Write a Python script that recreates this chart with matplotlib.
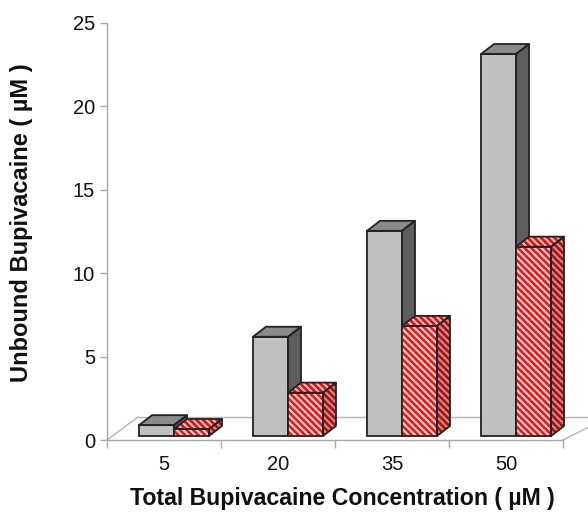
import matplotlib
matplotlib.use('Agg')
import matplotlib.pyplot as plt
from matplotlib.patches import Polygon

# ---- data ----
categories = ['5', '20', '35', '50']
gray_values = [0.65, 5.95, 12.3, 22.9]
red_values = [0.42, 2.6, 6.6, 11.35]
y_ticks = [0, 5, 10, 15, 20, 25]
x_label = 'Total Bupivacaine Concentration ( µM )'
y_label = 'Unbound Bupivacaine ( µM )'

plt.rcParams['font.family'] = ['Liberation Sans', 'DejaVu Sans']
plt.rcParams['hatch.linewidth'] = 1.5

W, H = 588, 527
fig = plt.figure(figsize=(W / 100, H / 100), dpi=100)
ax = fig.add_axes([107 / W, (H - 440) / H, (563 - 107) / W, (440 - 23) / H])
n = len(categories)
ax.set_xlim(-0.5, n - 0.5)
ax.set_ylim(0, 25)

# pixel -> data conversions (styling of the pseudo-3D look)
PX = n / (563 - 107)
PY = 25 / (440 - 23)
floor_dx, floor_dy = 31 * PX, 23 * PY
right_dx = 46 * PX
bar_shift = 10 * PX
bar_base = 4 * PY
bar_w = 35 * PX
ddx, ddy = 13 * PX, 10 * PY

floor_col = '#b4b4b4'
xl, xr = -0.5, n - 0.5
ax.plot([xl, xl + floor_dx], [0, floor_dy], color=floor_col, lw=1.0, clip_on=False, zorder=1)
ax.plot([xl + floor_dx, xr + right_dx], [floor_dy, floor_dy], color=floor_col, lw=1.0, clip_on=False, zorder=1)
ax.plot([xr, xr + right_dx], [0, floor_dy], color=floor_col, lw=1.0, clip_on=False, zorder=1)

EDGE = '#222222'
LW = 1.3


def box(x0, h, front, top, side, z, hatch=None):
    y0 = bar_base
    top_pts = [(x0, y0 + h), (x0 + bar_w, y0 + h), (x0 + bar_w + ddx, y0 + h + ddy), (x0 + ddx, y0 + h + ddy)]
    side_pts = [(x0 + bar_w, y0), (x0 + bar_w + ddx, y0 + ddy), (x0 + bar_w + ddx, y0 + h + ddy), (x0 + bar_w, y0 + h)]
    # fills
    ax.bar(x0, h, width=bar_w, bottom=y0, align='edge', color=front[0], edgecolor=front[1],
           hatch=hatch, linewidth=0, zorder=z)
    ax.add_patch(Polygon(top_pts, closed=True, facecolor=top[0], edgecolor=top[1], hatch=hatch,
                         linewidth=0, zorder=z, clip_on=False))
    ax.add_patch(Polygon(side_pts, closed=True, facecolor=side[0], edgecolor=side[1], hatch=hatch,
                         linewidth=0, zorder=z, clip_on=False))
    # outlines
    ax.bar(x0, h, width=bar_w, bottom=y0, align='edge', fill=False, edgecolor=EDGE,
           linewidth=LW, zorder=z + 0.1)
    ax.add_patch(Polygon(top_pts, closed=True, fill=False, edgecolor=EDGE, linewidth=LW,
                         joinstyle='round', zorder=z + 0.1, clip_on=False))
    ax.add_patch(Polygon(side_pts, closed=True, fill=False, edgecolor=EDGE, linewidth=LW,
                         joinstyle='round', zorder=z + 0.1, clip_on=False))


for i in range(n):
    c = i + bar_shift
    box(c - bar_w, gray_values[i], ('#c0c0c0', '#c0c0c0'), ('#8a8a8a', '#8a8a8a'),
        ('#5e5e5e', '#5e5e5e'), 3 + i * 0.01)
    box(c, red_values[i], ('#e81818', '#ffd4d4'), ('#d81414', '#f6baba'),
        ('#a01414', '#d88888'), 4 + i * 0.01, hatch='\\\\\\\\\\')

# axes styling
for s in ['top', 'right']:
    ax.spines[s].set_visible(False)
for s in ['left', 'bottom']:
    ax.spines[s].set_color('#a8a8a8')
    ax.spines[s].set_linewidth(1.0)
    ax.spines[s].set_zorder(2)

ax.set_yticks(y_ticks)
ax.set_yticklabels([str(t) for t in y_ticks])
ax.tick_params(axis='y', direction='out', length=5, width=1.0, color='#a8a8a8', pad=3.5,
               labelsize=14.5, labelcolor='#111111')
ax.set_xticks(range(n))
ax.set_xticklabels(categories)
ax.set_xticks([k - 0.5 for k in range(n + 1)], minor=True)
ax.tick_params(axis='x', which='major', length=0, pad=11, labelsize=14.5, labelcolor='#111111')
ax.tick_params(axis='x', which='minor', direction='out', length=6, width=1.0, color='#a8a8a8')

fig.text(342 / W, 1 - 498 / H, x_label, ha='center', va='center', fontsize=16.7,
         fontweight='bold', color='#111111')
fig.text(22 / W, 1 - 223 / H, y_label, ha='center', va='center', rotation=90, fontsize=17,
         fontweight='bold', color='#111111')

fig.savefig('out.png', dpi=100)
